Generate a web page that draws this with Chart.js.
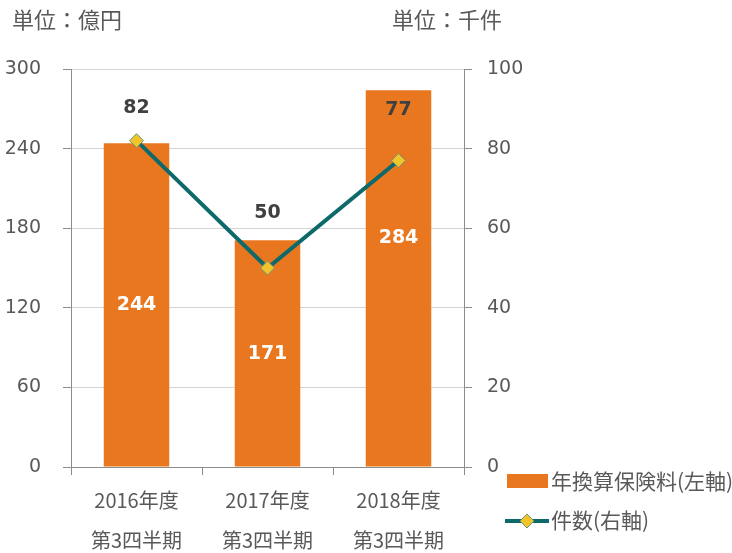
<!DOCTYPE html>
<html>
<head>
<meta charset="utf-8">
<script src="https://cdn.jsdelivr.net/npm/chart.js@4/dist/chart.umd.min.js"></script>
<style>
html,body{margin:0;padding:0;background:#fff;}
canvas{display:block;}
</style>
</head>
<body>
<canvas id="c" width="732" height="553"></canvas>
<script>
// ---- data ----
const categories = [['2016年度', '第3四半期'], ['2017年度', '第3四半期'], ['2018年度', '第3四半期']];
const premiumValues = [244, 171, 284];      // 年換算保険料 (億円, left axis)
const countValues = [82, 50, 77];           // 件数 (千件, right axis)
const seriesNames = ['年換算保険料(左軸)', '件数(右軸)'];
const leftTitle = '単位：億円';
const rightTitle = '単位：千件';
const leftAxis = { min: 0, max: 300, step: 60 };
const rightAxis = { min: 0, max: 100, step: 20 };

// ---- styles ----
const BAR_COLOR = '#E8771F';
const LINE_COLOR = '#0E6A6A';
const MARKER_FILL = '#F2C42C';
const MARKER_BORDER = '#6E9478';
const TEXT = '#595959';
const NUM_FONT = "'DejaVu Sans', Verdana, sans-serif";
const JP_FONT = "'Noto Sans CJK JP', sans-serif";
const lineLabelOffsets = [33, 55, 50];   // px above point
const barLabelOffsets = [0, 1, -40];    // px from bar middle

const labelPlugin = {
  id: 'labels',
  afterDatasetsDraw(chart) {
    const ctx = chart.ctx;
    ctx.save();
    ctx.textAlign = 'center';
    ctx.textBaseline = 'middle';
    ctx.font = 'bold 19px ' + NUM_FONT;
    const barMeta = chart.getDatasetMeta(0);
    barMeta.data.forEach((el, i) => {
      ctx.fillStyle = '#FFFFFF';
      const midY = (el.y + el.base) / 2 + barLabelOffsets[i];
      ctx.fillText(String(premiumValues[i]), el.x, midY);
    });
    const lineMeta = chart.getDatasetMeta(1);
    lineMeta.data.forEach((el, i) => {
      ctx.fillStyle = '#404040';
      ctx.fillText(String(countValues[i]), el.x, el.y - lineLabelOffsets[i]);
    });
    ctx.restore();
  },
  afterDraw(chart) {
    const ctx = chart.ctx;
    ctx.save();
    ctx.fillStyle = TEXT;
    ctx.textBaseline = 'middle';
    ctx.textAlign = 'left';
    ctx.font = '22px ' + JP_FONT;
    ctx.fillText(leftTitle, 12, 20);
    ctx.fillText(rightTitle, 392, 20);
    // legend
    ctx.fillStyle = BAR_COLOR;
    ctx.fillRect(507, 474, 41, 14);
    ctx.strokeStyle = LINE_COLOR;
    ctx.lineWidth = 4;
    ctx.beginPath();
    ctx.moveTo(505, 521);
    ctx.lineTo(549, 521);
    ctx.stroke();
    ctx.beginPath();
    ctx.moveTo(527, 514);
    ctx.lineTo(534, 521);
    ctx.lineTo(527, 528);
    ctx.lineTo(520, 521);
    ctx.closePath();
    ctx.fillStyle = MARKER_FILL;
    ctx.fill();
    ctx.lineWidth = 1;
    ctx.strokeStyle = MARKER_BORDER;
    ctx.stroke();
    ctx.fillStyle = TEXT;
    ctx.font = '21px ' + JP_FONT;
    ctx.fillText(chart.data.datasets[0].label, 551, 481);
    ctx.fillText(chart.data.datasets[1].label, 551, 520);
    ctx.restore();
  }
};

new Chart(document.getElementById('c'), {
  data: {
    labels: categories,
    datasets: [
      {
        type: 'bar',
        label: seriesNames[0],
        data: premiumValues,
        yAxisID: 'y',
        backgroundColor: BAR_COLOR,
        barPercentage: 0.5,
        categoryPercentage: 1.0,
        order: 1
      },
      {
        type: 'line',
        label: seriesNames[1],
        data: countValues,
        yAxisID: 'y1',
        borderColor: LINE_COLOR,
        backgroundColor: MARKER_FILL,
        borderWidth: 4,
        pointStyle: 'rectRot',
        pointRadius: 7,
        pointBackgroundColor: MARKER_FILL,
        pointBorderColor: MARKER_BORDER,
        pointBorderWidth: 1,
        tension: 0,
        order: 0
      }
    ]
  },
  options: {
    responsive: false,
    animation: false,
    layout: { padding: { left: 0, right: 0, top: 69, bottom: 0 } },
    plugins: { legend: { display: false }, tooltip: { enabled: false } },
    scales: {
      x: {
        grid: { offset: true, drawOnChartArea: false, tickLength: 8, tickColor: '#8C8C8C' },
        border: { color: '#8C8C8C', width: 1 },
        ticks: { color: TEXT, font: { family: JP_FONT, size: 20, lineHeight: 2.0 }, padding: 5, maxRotation: 0 },
        afterFit(s) { s.height = 86; }
      },
      y: {
        position: 'left',
        min: leftAxis.min, max: leftAxis.max,
        ticks: { stepSize: leftAxis.step, color: TEXT, font: { family: NUM_FONT, size: 19 }, padding: 22 },
        grid: { color: '#D4D4D4', tickLength: 8, tickColor: '#8C8C8C' },
        border: { color: '#8C8C8C', width: 1 },
        afterFit(s) { s.width = 71; }
      },
      y1: {
        position: 'right',
        min: rightAxis.min, max: rightAxis.max,
        ticks: { stepSize: rightAxis.step, color: TEXT, font: { family: NUM_FONT, size: 19 }, padding: 15 },
        grid: { drawOnChartArea: false, tickLength: 8, tickColor: '#8C8C8C' },
        border: { color: '#8C8C8C', width: 1 },
        afterFit(s) { s.width = 268; }
      }
    }
  },
  plugins: [labelPlugin]
});
</script>
</body>
</html>
